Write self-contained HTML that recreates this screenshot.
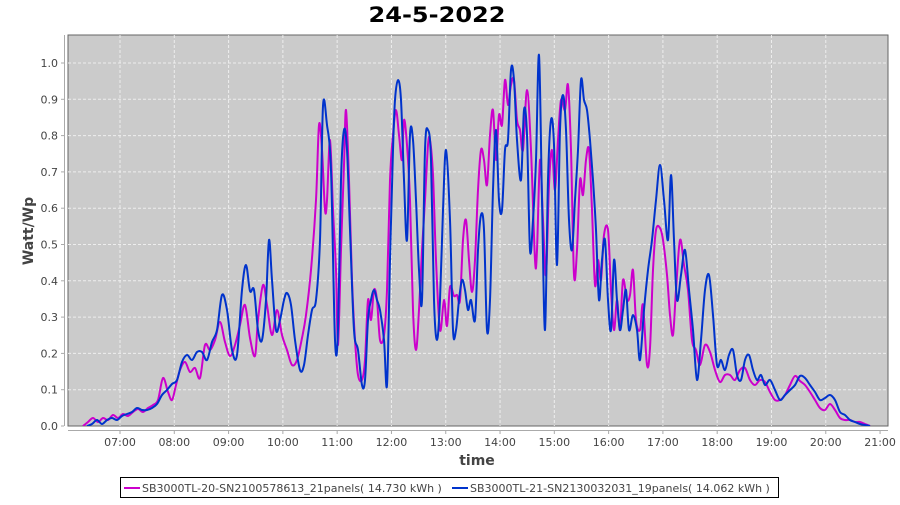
<!DOCTYPE html>
<html><head><meta charset="utf-8"><style>
body{margin:0;background:#fff;}
svg text{font-family:"DejaVu Sans","Liberation Sans",sans-serif;}
</style></head><body>
<svg id="root" width="900" height="500" xmlns="http://www.w3.org/2000/svg">
<text x="437" y="22" text-anchor="middle" font-size="21" font-weight="bold" fill="#000" textLength="137" lengthAdjust="spacingAndGlyphs">24-5-2022</text>
<rect x="68" y="35" width="820" height="391" fill="#cbcbcb" stroke="#666" stroke-width="1"/>
<g id="grid" stroke="#eee" stroke-dasharray="3,2" stroke-width="1"></g>
<line x1="64.5" y1="35" x2="64.5" y2="426" stroke="#aaa"/>
<line x1="68" y1="430.5" x2="888" y2="430.5" stroke="#aaa"/>
<g id="yl" font-size="11" fill="#444" text-anchor="end"></g>
<g id="xl" font-size="11" fill="#444" text-anchor="middle"></g>
<text x="477" y="465" text-anchor="middle" font-size="14" font-weight="bold" fill="#444">time</text>
<text transform="translate(33,231) rotate(-90)" text-anchor="middle" font-size="14" font-weight="bold" fill="#444">Watt/Wp</text>
<svg x="68" y="35" width="820" height="391" viewBox="68 35 820 391" overflow="hidden">
<path id="mp" fill="none" stroke="#cc00cc" stroke-width="2" stroke-linejoin="round"/>
<path id="bp" fill="none" stroke="#0033cc" stroke-width="2" stroke-linejoin="round"/>
</svg>
<rect x="120.5" y="477.5" width="658" height="20" fill="#fff" stroke="#000"/>
<line x1="124" y1="488" x2="140" y2="488" stroke="#cc00cc" stroke-width="2"/>
<text x="142" y="492" font-size="11" fill="#444">SB3000TL-20-SN2100578613_21panels( 14.730 kWh )</text>
<line x1="452" y1="488" x2="468" y2="488" stroke="#0033cc" stroke-width="2"/>
<text x="470" y="492" font-size="11" fill="#444">SB3000TL-21-SN2130032031_19panels( 14.062 kWh )</text>
</svg>
<script>
var M="83,426 88,422 93,418 98,422 103,418 108,420 113,415 118,418 123,414 128,416 133,412 138,409 143,412 148,408 153,405 158,400 163,378 168,392 172,400 176,385 180,370 185,362 190,372 195,368 200,378 205,345 210,350 215,340 220,322 225,342 230,356 235,345 240,325 245,305 250,338 255,356 258,320 263,285 267,305 272,335 277,310 282,335 287,350 292,365 297,360 302,338 306,315 311,270 316,200 319,125 322,150 325,210 327,200 330,140 333,210 336,270 338,345 341,250 344,165 346,110 349,180 352,280 355,340 358,375 362,380 365,360 368,300 371,320 374,290 377,300 380,340 384,335 387,290 390,180 393,135 396,110 399,135 402,160 404,120 407,145 410,200 413,310 416,350 419,310 422,250 425,200 428,145 430,140 433,175 436,260 440,330 444,300 447,326 450,287 454,296 457,295 460,300 463,240 466,220 469,260 472,292 475,260 478,190 481,150 484,160 487,185 490,135 493,110 496,160 499,115 502,125 505,80 508,105 511,85 514,80 517,120 520,130 523,150 527,90 531,150 535,260 537,250 540,160 543,220 546,275 549,185 552,150 555,190 558,140 561,100 565,110 568,85 571,150 574,275 577,250 580,180 583,195 586,160 589,150 592,210 595,285 598,260 601,280 604,235 608,230 611,290 614,330 617,300 620,330 623,280 627,300 630,295 633,270 636,320 640,330 643,305 647,365 650,348 653,270 656,230 660,228 663,240 667,275 670,315 673,335 676,290 680,240 684,265 688,290 692,340 696,350 700,365 705,345 710,352 715,370 720,382 725,375 730,375 735,380 740,370 745,368 750,380 755,385 760,380 765,382 770,392 775,400 780,400 785,395 790,385 795,376 800,381 805,385 810,392 815,400 820,408 825,410 830,404 835,410 840,418 845,420 850,420 855,422 860,422 865,424 870,426";
var B="87,426 92,424 97,420 102,424 107,420 112,418 117,420 122,416 127,414 132,412 137,408 142,410 147,410 152,408 157,404 162,395 167,390 172,384 177,380 182,362 187,355 192,360 197,352 202,352 207,360 212,342 217,330 222,295 227,310 232,350 237,355 242,290 246,265 250,291 254,290 258,330 262,340 266,300 269,240 272,280 276,330 280,320 284,300 287,293 291,305 295,340 300,370 304,365 308,335 312,310 316,300 320,240 323,106 327,125 331,170 335,340 338,330 341,180 344,130 347,150 350,230 354,330 358,350 362,385 365,380 368,320 371,300 374,290 377,300 380,310 384,340 387,385 390,260 393,150 395,100 398,80 401,100 404,180 407,240 410,135 413,140 416,200 419,270 422,300 425,150 428,130 431,160 434,300 437,340 440,300 443,210 446,150 450,220 453,330 456,330 459,300 462,280 465,290 468,310 471,300 475,320 478,250 481,215 484,230 487,330 490,300 493,190 496,130 499,200 502,210 505,150 508,140 511,70 514,80 517,140 521,180 524,110 527,135 530,250 533,220 536,160 539,55 542,200 545,330 548,180 551,120 554,145 557,265 560,130 563,95 566,130 569,220 572,250 575,200 578,150 581,80 584,100 587,110 590,140 593,180 596,230 599,300 602,260 605,240 608,300 611,330 614,260 617,300 620,330 623,310 626,290 629,330 633,315 637,330 640,360 644,310 648,270 652,240 656,200 660,165 664,200 668,240 671,175 674,240 677,300 681,275 685,250 689,290 693,330 697,380 701,340 705,290 709,275 713,315 717,365 721,360 725,370 729,355 733,350 737,375 741,380 745,360 749,355 753,370 757,380 761,375 765,385 770,380 775,390 780,400 785,395 790,390 795,385 800,376 805,378 810,385 815,392 820,400 825,398 830,395 835,400 840,412 845,415 850,420 855,422 860,424 865,425 870,426";
function smooth(s){var p=s.split(" ").map(function(q){return q.split(",").map(Number);});var d="M"+p[0][0]+","+p[0][1];
for(var i=0;i<p.length-1;i++){var a=p[Math.max(i-1,0)],b=p[i],c=p[i+1],e=p[Math.min(i+2,p.length-1)];
d+=" C"+(b[0]+(c[0]-a[0])/6)+","+(b[1]+(c[1]-a[1])/6)+" "+(c[0]-(e[0]-b[0])/6)+","+(c[1]-(e[1]-b[1])/6)+" "+c[0]+","+c[1];}return d;}
document.getElementById("mp").setAttribute("d",smooth(M));
document.getElementById("bp").setAttribute("d",smooth(B));
var ns="http://www.w3.org/2000/svg",root=document.getElementById("root");
var g=document.getElementById("grid"),yl=document.getElementById("yl"),xl=document.getElementById("xl");
function el(t,a,p,tx){var e=document.createElementNS(ns,t);for(var k in a)e.setAttribute(k,a[k]);if(tx)e.textContent=tx;p.appendChild(e);}
for(var k=0;k<=10;k++){var y=426-36.3*k;if(k>0)el("line",{x1:68,x2:888,y1:y,y2:y},g);el("line",{x1:61,x2:64,y1:y,y2:y,stroke:"#aaa"},root);el("text",{x:58,y:y+4},yl,(k/10).toFixed(1));}
for(var h=7;h<=21;h++){var x=120+54.29*(h-7);if(h<21)el("line",{x1:x,x2:x,y1:35,y2:426},g);el("line",{x1:x,x2:x,y1:430,y2:434,stroke:"#aaa"},root);el("text",{x:x,y:446},xl,(h<10?"0":"")+h+":00");}
</script>
</body></html>
